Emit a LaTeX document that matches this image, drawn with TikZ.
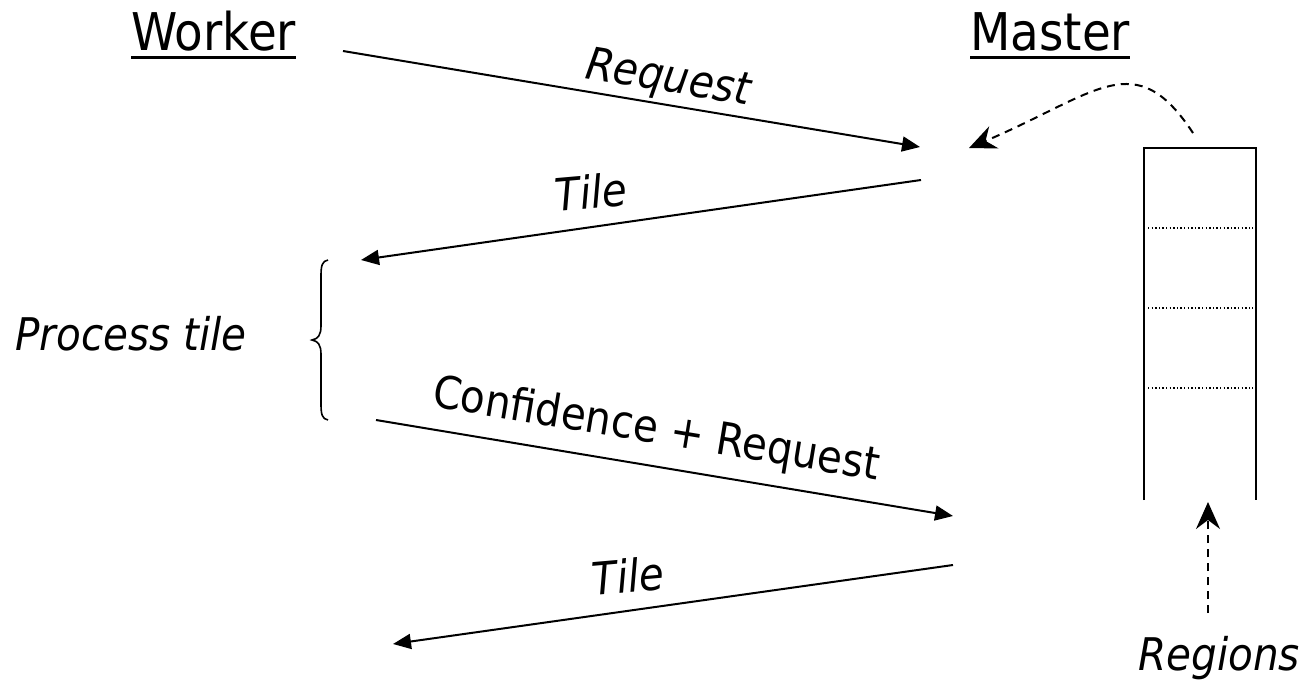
\documentclass[tikz,border=0pt]{standalone}
\usepackage{fontspec}
\setmainfont{DejaVu Sans}[FakeStretch=0.9]
\usetikzlibrary{arrows.meta}
\begin{document}
\begin{tikzpicture}[x=1pt,y=-1pt,
  head/.style={font=\fontsize{52}{60}\selectfont, inner sep=0pt, anchor=base west},
  lbl/.style={font=\fontsize{45}{54}\selectfont\itshape, inner sep=0pt},
  lblup/.style={font=\fontsize{45}{54}\selectfont, inner sep=0pt},
  msg/.style={line width=2pt, -{Triangle[length=18pt,width=15pt]}},
  dasharr/.style={line width=2pt, dash pattern=on 8pt off 6pt, -{Stealth[length=27pt,width=24pt,inset=9pt]}},
  uline/.style={line width=3pt},
  boxline/.style={line width=2pt},
  dotline/.style={line width=1.4pt, dash pattern=on 1.4pt off 2.2pt}
]
\useasboundingbox (0,0) rectangle (1309,680);
% headings
\node[head] (W) at (131,50) {Worker};
\draw[uline] ([yshift=-7pt]W.base west) -- ([yshift=-7pt]W.base east);
\node[head] (M) at (970,50) {Master};
\draw[uline] ([yshift=-7pt]M.base west) -- ([yshift=-7pt]M.base east);
% message endpoints
\coordinate (r1s) at (343,51);
\coordinate (r1e) at (920,147);
\coordinate (t1s) at (921,180);
\coordinate (t1e) at (361,260);
\coordinate (c1s) at (376,420);
\coordinate (c1e) at (953,516);
\coordinate (t2s) at (953,565);
\coordinate (t2e) at (393,644);
\draw[msg] (r1s) -- (r1e);
\draw[msg] (t1s) -- (t1e);
\draw[msg] (c1s) -- (c1e);
\draw[msg] (t2s) -- (t2e);
% labels
\node[lbl, rotate=-9.4] (lreq) at (668,80) {Request};
\node[lbl, rotate=5] (ltile1) at (591,192) {Tile};
\node[lblup, rotate=-9.4] (lconf) at (656,431) {Confidence + Request};
\node[lbl, rotate=5] (ltile2) at (628,576) {Tile};
% brace
\draw[line width=1.6pt] (328,260) .. controls (322,261) and (321,266) .. (321,276) -- (321,326)
  .. controls (321,335) and (318,339) .. (312,340)
  .. controls (318,341) and (321,345) .. (321,354) -- (321,404)
  .. controls (321,414) and (322,419) .. (328,420);
\node[lbl, anchor=base west] (proc) at (15,350) {Process tile};
% regions stack
\draw[boxline] (1144,500) -- (1144,148) -- (1256,148) -- (1256,500);
\draw[dotline] (1148,228) -- (1253,228);
\draw[dotline] (1148,308) -- (1253,308);
\draw[dotline] (1148,388) -- (1253,388);
\coordinate (dqs) at (1193,133);
\coordinate (dqe) at (969,148);
\draw[dasharr] (dqs) .. controls (1135,45) and (1098,93) .. (dqe);
\node[lbl, anchor=base] (reg) at (1219,670) {Regions};
\coordinate (rgs) at (1208,613);
\coordinate (rge) at (1208,502);
\draw[dasharr] (rgs) -- (rge);
\end{tikzpicture}
\end{document}
